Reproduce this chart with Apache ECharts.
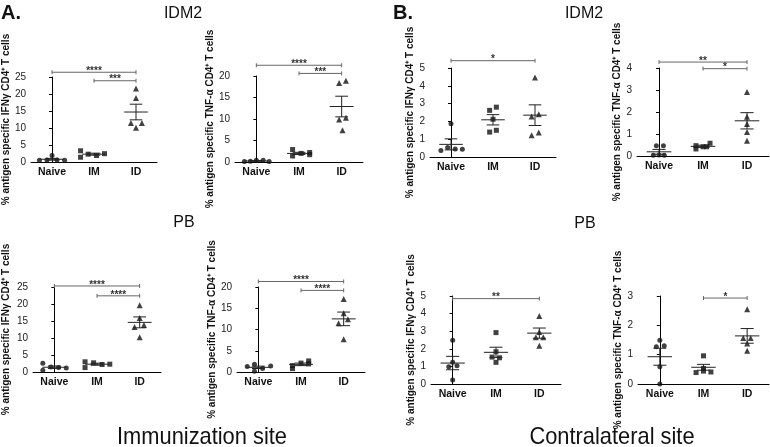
<!DOCTYPE html>
<html>
<head>
<meta charset="utf-8">
<script src="https://cdn.jsdelivr.net/npm/echarts@6/dist/echarts.min.js"></script>
<style>html,body{margin:0;padding:0;background:#fff}#c{width:770px;height:447px}</style>
</head>
<body>
<div id="c"></div>
<script>
// ---------------- DATA ----------------
const GROUPS = ['Naive', 'IM', 'ID'];
const NAME_IFN = '% antigen specific IFNγ CD4⁺ T cells';
const NAME_TNF = '% antigen specific TNF-α CD4⁺ T cells';

// A. Immunization site, IDM2
const aIdm2Ifn = [[0.5, 0.6, 1.9, 0.6, 0.5], [3.3, 1.4, 2.3, 1.9, 2.45], [21.6, 18.8, 11.5, 11.5, 10.1]];
const aIdm2IfnMean = [0.8, 2.3, 14.7];
const aIdm2IfnSem = [0.27, 0.3, 2.3];
const aIdm2IfnSig = [[0, 2, 26.4, '****'], [1, 2, 23.9, '***']];

const aIdm2Tnf = [[0.1, 0.2, 0.4, 0.4, 0.1], [2.9, 1.4, 2.0, 1.7, 2.2], [18.4, 18.9, 9.9, 10.3, 7.4]];
const aIdm2TnfMean = [0.24, 2.0, 12.9];
const aIdm2TnfSem = [0.07, 0.25, 2.4];
const aIdm2TnfSig = [[0, 2, 22.5, '****'], [1, 2, 20.6, '***']];

// B. Contralateral site, IDM2
const bIdm2Ifn = [[1.87, 0.54, 0.37, 0.45, 0.43], [2.62, 2.8, 2.12, 1.4, 1.5], [4.46, 2.28, 2.4, 1.22, 1.37]];
const bIdm2IfnMean = [0.71, 2.09, 2.35];
const bIdm2IfnSem = [0.31, 0.29, 0.58];
const bIdm2IfnSig = [[0, 2, 5.41, '*']];

const bIdm2Tnf = [[0.47, 0.47, 0.03, 0.04, 0.03], [0.58, 0.47, 0.42, 0.42, 0.32], [2.91, 1.78, 1.45, 1.09, 0.69]];
const bIdm2TnfMean = [0.19, 0.44, 1.6];
const bIdm2TnfSem = [0.11, 0.05, 0.37];
const bIdm2TnfSig = [[0, 2, 4.27, '**'], [1, 2, 3.97, '*']];

// A. Immunization site, PB
const aPbIfn = [[2.6, 0.5, 1.5, 1.35, 1.2], [3.0, 1.3, 2.7, 2.2, 2.3], [19.6, 15.9, 13.8, 13.2, 10.2]];
const aPbIfnMean = [1.4, 2.3, 14.6];
const aPbIfnSem = [0.35, 0.3, 1.6];
const aPbIfnSig = [[0, 2, 25.3, '****'], [1, 2, 22.4, '****']];

const aPbTnf = [[1.3, 1.8, 0.2, 0.8, 1.4], [1.5, 0.8, 2.1, 1.9, 2.6], [17.2, 13.8, 12.4, 11.5, 7.7]];
const aPbTnfMean = [1.1, 1.8, 12.5];
const aPbTnfSem = [0.28, 0.3, 1.6];
const aPbTnfSig = [[0, 2, 21.3, '****'], [1, 2, 19.2, '****']];

// B. Contralateral site, PB
const bPbIfn = [[2.49, 1.23, 0.98, 1.04, 0.23], [2.92, 1.83, 1.53, 1.49, 1.23], [3.87, 2.96, 2.66, 2.66, 2.17]];
const bPbIfnMean = [1.19, 1.8, 2.89];
const bPbIfnSem = [0.38, 0.29, 0.29];
const bPbIfnSig = [[0, 2, 4.85, '**']];

const bPbTnf = [[1.49, 1.27, 1.3, 0.59, 0.0], [0.96, 0.53, 0.39, 0.44, 0.41], [2.55, 1.57, 1.57, 1.38, 1.13]];
const bPbTnfMean = [0.93, 0.57, 1.64];
const bPbTnfSem = [0.29, 0.1, 0.25];
const bPbTnfSig = [[1, 2, 2.93, '*']];

// y-axis ranges [max, interval]
const yRanges = [[25, 5], [20, 5], [5, 1], [4, 1], [25, 5], [20, 5], [5, 1], [3, 1]];

// ---------------- LAYOUT (horizontal spread of dots in a column, grid boxes) ----------------
const spreads = [
  [[-0.3, -0.12, 0, 0.12, 0.3], [-0.32, -0.32, -0.14, 0.06, 0.25], [0, 0, -0.12, 0.14, 0]],
  [[-0.28, -0.14, 0, 0.16, 0.3], [-0.15, -0.15, 0.05, 0.25, 0.25], [-0.06, 0.1, -0.06, 0.1, 0.02]],
  [[0, -0.08, -0.24, 0.1, 0.27], [-0.08, 0.08, 0, -0.08, 0.08], [0, -0.08, 0.09, -0.08, 0.09]],
  [[-0.06, 0.1, -0.13, 0, 0.12], [0.16, -0.16, 0, 0.08, -0.16], [0, 0, 0, 0, 0]],
  [[-0.27, -0.27, -0.08, 0.1, 0.28], [-0.28, -0.28, -0.08, 0.12, 0.3], [0, 0, 0.1, -0.12, 0]],
  [[-0.26, -0.09, -0.09, 0.1, 0.29], [-0.2, -0.2, 0, 0.18, 0.18], [0, 0, 0.1, -0.12, 0]],
  [[0, 0, -0.09, 0.1, 0], [0, 0, -0.09, 0.08, 0], [0, 0, -0.08, 0.09, 0]],
  [[0, -0.08, 0.1, 0, 0], [0, 0, -0.17, 0, 0.17], [0, -0.09, 0.08, 0, 0]]
];
const boxes = [
  {left: 31, top: 77, width: 126, height: 85, gap: 17},
  {left: 235, top: 76, width: 128, height: 86, gap: 19},
  {left: 430, top: 68, width: 126, height: 89, gap: 11},
  {left: 637, top: 68, width: 132, height: 88, gap: 12},
  {left: 33, top: 287, width: 128, height: 85, gap: 22},
  {left: 237, top: 287, width: 128, height: 85, gap: 14},
  {left: 431, top: 296, width: 130, height: 88, gap: 14},
  {left: 638, top: 296, width: 131, height: 88, gap: 13}
];

const panels = [
  {vals: aIdm2Ifn, mean: aIdm2IfnMean, sem: aIdm2IfnSem, sig: aIdm2IfnSig, name: NAME_IFN},
  {vals: aIdm2Tnf, mean: aIdm2TnfMean, sem: aIdm2TnfSem, sig: aIdm2TnfSig, name: NAME_TNF},
  {vals: bIdm2Ifn, mean: bIdm2IfnMean, sem: bIdm2IfnSem, sig: bIdm2IfnSig, name: NAME_IFN},
  {vals: bIdm2Tnf, mean: bIdm2TnfMean, sem: bIdm2TnfSem, sig: bIdm2TnfSig, name: NAME_TNF},
  {vals: aPbIfn, mean: aPbIfnMean, sem: aPbIfnSem, sig: aPbIfnSig, name: NAME_IFN},
  {vals: aPbTnf, mean: aPbTnfMean, sem: aPbTnfSem, sig: aPbTnfSig, name: NAME_TNF},
  {vals: bPbIfn, mean: bPbIfnMean, sem: bPbIfnSem, sig: bPbIfnSig, name: NAME_IFN},
  {vals: bPbTnf, mean: bPbTnfMean, sem: bPbTnfSem, sig: bPbTnfSig, name: NAME_TNF}
];

const FONT = "'Liberation Sans', Arial, Helvetica, sans-serif";
const NARROW = "'Liberation Sans Narrow', 'Arial Narrow', 'Liberation Sans', sans-serif";
const SYMBOLS = ['circle', 'rect', 'triangle'];
const SYMSIZE = [5, 5, 6];

const grid = [], xAxis = [], yAxis = [], series = [];

panels.forEach((p, i) => {
  const b = boxes[i];
  grid.push({left: b.left, top: b.top, width: b.width, height: b.height});
  // visible category axis (labels)
  xAxis.push({
    type: 'category', gridIndex: i, data: GROUPS, boundaryGap: true,
    axisLine: {lineStyle: {color: '#000', width: 1}},
    axisTick: {show: false},
    axisLabel: {fontFamily: FONT, fontWeight: 'bold', fontSize: 10.5, color: '#111', margin: 5},
    splitLine: {show: false}
  });
  // hidden value axis for positioning points (group centers at 0,1,2)
  xAxis.push({
    type: 'value', gridIndex: i, min: -0.5, max: 2.5, show: false, splitLine: {show: false}
  });
  yAxis.push({
    type: 'value', gridIndex: i, min: 0, max: yRanges[i][0], interval: yRanges[i][1],
    axisLine: {show: true, lineStyle: {color: '#000', width: 1}},
    axisTick: {show: true, length: 3, lineStyle: {color: '#000'}},
    axisLabel: {fontFamily: FONT, fontSize: 10, color: '#222', margin: 5},
    splitLine: {show: false},
    name: p.name, nameLocation: 'middle', nameGap: b.gap,
    nameTextStyle: {fontFamily: FONT, fontSize: 10, fontWeight: 'bold', color: '#111'}
  });
  const xi = 2 * i + 1;
  // dots
  p.vals.forEach((arr, g) => {
    series.push({
      type: 'scatter', xAxisIndex: xi, yAxisIndex: i,
      symbol: SYMBOLS[g], symbolSize: SYMSIZE[g],
      itemStyle: {color: '#111'},
      data: arr.map((v, k) => [g + spreads[i][g][k], v]),
      z: 3
    });
  });
  // mean and SEM
  series.push({
    type: 'custom', xAxisIndex: xi, yAxisIndex: i, clip: false, z: 4,
    data: p.mean.map((m, g) => [g, m, p.sem[g]]),
    renderItem: (params, api) => {
      const g = api.value(0), m = api.value(1), s = api.value(2);
      const c = (x, y) => api.coord([x, y]);
      const L = (a, bb) => ({type: 'line', shape: {x1: a[0], y1: a[1], x2: bb[0], y2: bb[1]},
        style: {stroke: '#222', lineWidth: 1}});
      return {type: 'group', children: [
        L(c(g - 0.28, m), c(g + 0.28, m)),
        L(c(g - 0.15, m + s), c(g + 0.15, m + s)),
        L(c(g - 0.15, m - s), c(g + 0.15, m - s)),
        L(c(g, m - s), c(g, m + s))
      ]};
    }
  });
  // significance bars
  series.push({
    type: 'custom', xAxisIndex: xi, yAxisIndex: i, clip: false, z: 5,
    data: p.sig.map(s => [s[0], s[1], s[2]]),
    renderItem: (params, api) => {
      const a = api.coord([api.value(0), api.value(2)]);
      const bb = api.coord([api.value(1), api.value(2)]);
      const st = {stroke: '#666', lineWidth: 1};
      return {type: 'group', children: [
        {type: 'line', shape: {x1: a[0], y1: a[1], x2: bb[0], y2: bb[1]}, style: st},
        {type: 'line', shape: {x1: a[0], y1: a[1] - 2, x2: a[0], y2: a[1] + 2}, style: st},
        {type: 'line', shape: {x1: bb[0], y1: bb[1] - 2, x2: bb[0], y2: bb[1] + 2}, style: st},
        {type: 'text', x: (a[0] + bb[0]) / 2, y: a[1] - 1,
          style: {text: p.sig[params.dataIndex][3], textAlign: 'center', textVerticalAlign: 'middle',
            font: 'bold 10px ' + FONT, fill: '#333'}}
      ]};
    }
  });
});

const graphic = [
  {type: 'text', left: 1, top: 3, style: {text: 'A.', font: 'bold 20px ' + FONT, fill: '#111'}},
  {type: 'text', left: 393, top: 3, style: {text: 'B.', font: 'bold 20px ' + FONT, fill: '#111'}},
  {type: 'text', x: 183, y: 14, style: {text: 'IDM2', font: '16px ' + FONT, fill: '#111', textAlign: 'center', textVerticalAlign: 'middle'}},
  {type: 'text', x: 584, y: 14, style: {text: 'IDM2', font: '16px ' + FONT, fill: '#111', textAlign: 'center', textVerticalAlign: 'middle'}},
  {type: 'text', x: 184, y: 223, style: {text: 'PB', font: '16px ' + FONT, fill: '#111', textAlign: 'center', textVerticalAlign: 'middle'}},
  {type: 'text', x: 585, y: 224, style: {text: 'PB', font: '16px ' + FONT, fill: '#111', textAlign: 'center', textVerticalAlign: 'middle'}},
  {type: 'text', x: 202, y: 437, scaleX: 0.91, style: {text: 'Immunization site', font: '24px ' + NARROW, fill: '#111', textAlign: 'center', textVerticalAlign: 'middle'}},
  {type: 'text', x: 612, y: 437, scaleX: 0.91, style: {text: 'Contralateral site', font: '24px ' + NARROW, fill: '#111', textAlign: 'center', textVerticalAlign: 'middle'}}
];

const chart = echarts.init(document.getElementById('c'), null, {renderer: 'canvas'});
chart.setOption({animation: false, backgroundColor: '#fff', grid, xAxis, yAxis, series, graphic});
</script>
</body>
</html>
